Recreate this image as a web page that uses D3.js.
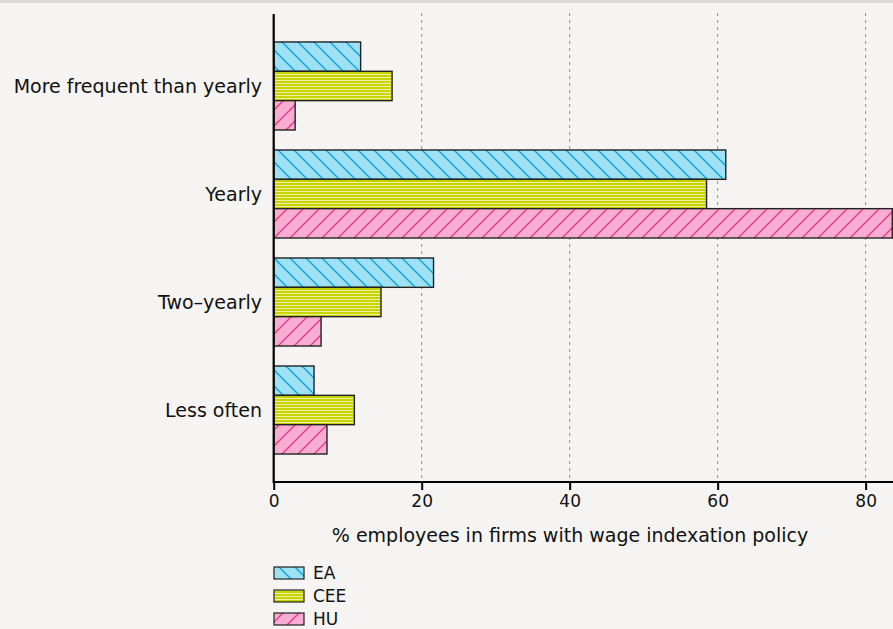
<!DOCTYPE html>
<html><head><meta charset="utf-8">
<script src="https://cdn.jsdelivr.net/npm/d3@7"></script>
<style>
html,body{margin:0;padding:0;background:#f5f4f2;}
svg{display:block;}
text{font-family:"DejaVu Sans",sans-serif;fill:#111;}
</style></head>
<body>
<svg id="chart" width="893" height="629"></svg>
<script>
const categories = ["More frequent than yearly", "Yearly", "Two\u2013yearly", "Less often"];
const seriesNames = ["EA", "CEE", "HU"];
const EA  = [11.75, 61.1, 21.6, 5.45];
const CEE = [16.0, 58.5, 14.5, 10.9];
const HU  = [2.9, 83.6, 6.4, 7.2];
const xTicks = [0, 20, 40, 60, 80];
const xTitle = "% employees in firms with wage indexation policy";

const seriesValues = [EA, CEE, HU];
const svg = d3.select("#chart");
const W = 893, H = 629;

svg.append("rect").attr("x",0).attr("y",0).attr("width",W).attr("height",3).attr("fill","#dcd8d3");

const defs = svg.append("defs");
const pEA = defs.append("pattern").attr("id","pEA").attr("patternUnits","userSpaceOnUse")
  .attr("width",16).attr("height",16);
pEA.append("rect").attr("width",16).attr("height",16).attr("fill","#9ee1f4");
pEA.append("path").attr("d","M-4,-4L20,20M-4,12L4,20M12,-4L20,4").attr("stroke","#14a7d9").attr("stroke-width",1.5);
const pCEE = defs.append("pattern").attr("id","pCEE").attr("patternUnits","userSpaceOnUse")
  .attr("width",10).attr("height",3);
pCEE.append("rect").attr("width",10).attr("height",3).attr("fill","#eef0a0");
pCEE.append("rect").attr("y",0).attr("width",10).attr("height",2).attr("fill","#c6d400");
const pHU = defs.append("pattern").attr("id","pHU").attr("patternUnits","userSpaceOnUse")
  .attr("width",16).attr("height",16);
pHU.append("rect").attr("width",16).attr("height",16).attr("fill","#f6add1");
pHU.append("path").attr("d","M-4,20L20,-4M-4,4L4,-4M12,20L20,12").attr("stroke","#e5408e").attr("stroke-width",1.5);
const fills = ["url(#pEA)","url(#pCEE)","url(#pHU)"];

const x = d3.scaleLinear().domain([0, 83.7]).range([273.7, 893]);
const y = d3.scaleBand().domain(categories).range([14, 482]).paddingInner(0.185).paddingOuter(0.259);
const ySub = d3.scaleBand().domain(seriesNames).range([0, y.bandwidth()]);

svg.append("g").selectAll("line").data(xTicks.filter(d=>d>0)).join("line")
  .attr("x1",d=>x(d)).attr("x2",d=>x(d)).attr("y1",13).attr("y2",482)
  .attr("stroke","#8f8f8f").attr("stroke-width",1).attr("stroke-dasharray","3,4");

const g = svg.append("g");
seriesNames.forEach((s,si)=>{
  g.selectAll(".b"+si).data(categories).join("rect")
    .attr("x", x(0))
    .attr("y", c=>y(c)+ySub(s))
    .attr("width", (c,i)=>x(seriesValues[si][i])-x(0))
    .attr("height", ySub.bandwidth())
    .attr("fill", fills[si])
    .attr("stroke","#222").attr("stroke-width",1.4);
});

const xAxis = svg.append("g").attr("transform","translate(0,482)")
  .call(d3.axisBottom(x).tickValues(xTicks).tickSize(8).tickPadding(5).tickFormat(d3.format("d")));
xAxis.select(".domain").attr("stroke","#000").attr("stroke-width",2.2).attr("d","M273.7,0H893");
xAxis.selectAll(".tick line").attr("stroke","#000").attr("stroke-width",2);
xAxis.selectAll(".tick text").attr("font-size",17).attr("fill","#111")
  .style("font-family",'"DejaVu Sans",sans-serif');

svg.append("line").attr("x1",273.7).attr("x2",273.7).attr("y1",14).attr("y2",483)
  .attr("stroke","#000").attr("stroke-width",2.2);
svg.append("g").selectAll("text").data(categories).join("text")
  .attr("x",262).attr("y",c=>y(c)+y.bandwidth()/2).attr("dy","0.35em")
  .attr("text-anchor","end").attr("font-size",19).text(c=>c);

svg.append("text").attr("x",570).attr("y",535).attr("dy","0.35em").attr("text-anchor","middle")
  .attr("font-size",19).text(xTitle);

const leg = svg.append("g");
seriesNames.forEach((s,i)=>{
  const ly = 567 + i*23;
  leg.append("rect").attr("x",274).attr("y",ly).attr("width",30).attr("height",12)
    .attr("fill",fills[i]).attr("stroke","#222").attr("stroke-width",1.2);
  leg.append("text").attr("x",313).attr("y",ly+6).attr("dy","0.35em").attr("font-size",17).text(s);
});
</script>
</body></html>
